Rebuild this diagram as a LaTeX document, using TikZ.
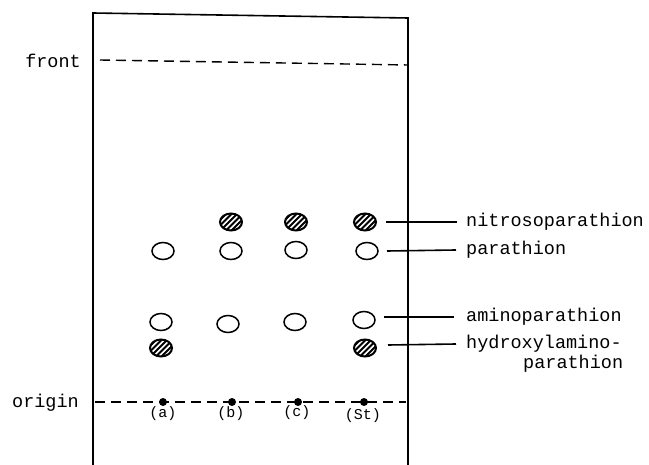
\documentclass[tikz,border=0pt]{standalone}
\usepackage{fontspec}
\setmonofont{Liberation Mono}
\usetikzlibrary{shapes.geometric}
\begin{document}
\begin{tikzpicture}[x=1pt,y=-1pt,
  plate/.style={line width=1.6pt},
  runline/.style={line width=1.4pt, dash pattern=on 10pt off 6pt},
  spot/.style={ellipse, draw, line width=1.5pt, minimum width=22pt, minimum height=17pt, inner sep=0pt},
  hspot/.style={spot, line width=2pt},
  dot/.style={circle, fill, inner sep=0pt, minimum size=8pt},
  lbl/.style={font=\ttfamily\fontsize{18.5}{20}\selectfont, inner sep=0pt},
  lane/.style={font=\ttfamily\fontsize{15}{16}\selectfont, inner sep=0pt},
  leader/.style={line width=1.6pt}]
\useasboundingbox (0,0) rectangle (649,465);

% plate outline (open at the bottom)
\coordinate (tl) at (93,13);
\coordinate (tr) at (408,18);
\coordinate (bl) at (93,465);
\coordinate (br) at (408,465);
\draw[plate] (bl) -- (tl) -- (tr) -- (br);

% solvent front and origin
\node[lbl, anchor=east] (front) at (81,61) {front};
\coordinate (fs) at (100,60);
\coordinate (fe) at (408,65);
\draw[runline] (fs) -- (fe);

\node[lbl, anchor=east] (origin) at (79,403) {origin};
\coordinate (os) at (95,402);
\coordinate (oe) at (406,402);
\draw[runline] (os) -- (oe);

% application points and lane labels
\node[dot] (pa) at (163,402) {};
\node[dot] (pb) at (232,402) {};
\node[dot] (pc) at (298,402) {};
\node[dot] (ps) at (364,402) {};
\node[lane] (la) at (163,414) {(a)};
\node[lane] (lb) at (231,414) {(b)};
\node[lane] (lc) at (297,413) {(c)};
\node[lane] (ls) at (363,416) {(St)};

% hatched spots (nitrosoparathion, hydroxylaminoparathion)
\foreach \n/\x/\y in {nb/231/222, nc/296/222, ns/365/222, ha/161/348, hs/365/348}{
  \node[hspot] (\n) at (\x,\y) {};
  \begin{scope}
    \clip (\x,\y) ellipse [x radius=11, y radius=8.5];
    \foreach \d in {-24,-18.5,...,24}
      \draw[line width=1.8pt] (\x+\d-12,\y+12) -- (\x+\d+12,\y-12);
  \end{scope}
}

% open spots (parathion, aminoparathion)
\node[spot] (pra) at (163,251) {};
\node[spot] (prb) at (231,251) {};
\node[spot] (prc) at (296,250) {};
\node[spot] (prs) at (367,251) {};
\node[spot] (ama) at (161,322) {};
\node[spot] (amb) at (228,324) {};
\node[spot] (amc) at (295,322) {};
\node[spot] (ams) at (364,320) {};

% compound labels with leaders
\node[lbl, anchor=west] (t1) at (466,222) {nitrosoparathion};
\node[lbl, anchor=west] (t2) at (466,250) {parathion};
\node[lbl, anchor=west] (t3) at (466,317) {aminoparathion};
\node[lbl, anchor=west] (t4) at (466,344) {hydroxylamino-};
\node[lbl, anchor=west] (t5) at (523,364) {parathion};

\coordinate (s1) at (386,222);
\coordinate (s2) at (387,251);
\coordinate (s3) at (384,317);
\coordinate (s4) at (388,345);
\draw[leader] (s1) -- ([xshift=-9]t1.west);
\draw[leader] (s2) -- ([xshift=-10]t2.west);
\draw[leader] (s3) -- ([xshift=-12]t3.west);
\draw[leader] (s4) -- ([xshift=-10]t4.west);
\end{tikzpicture}
\end{document}
